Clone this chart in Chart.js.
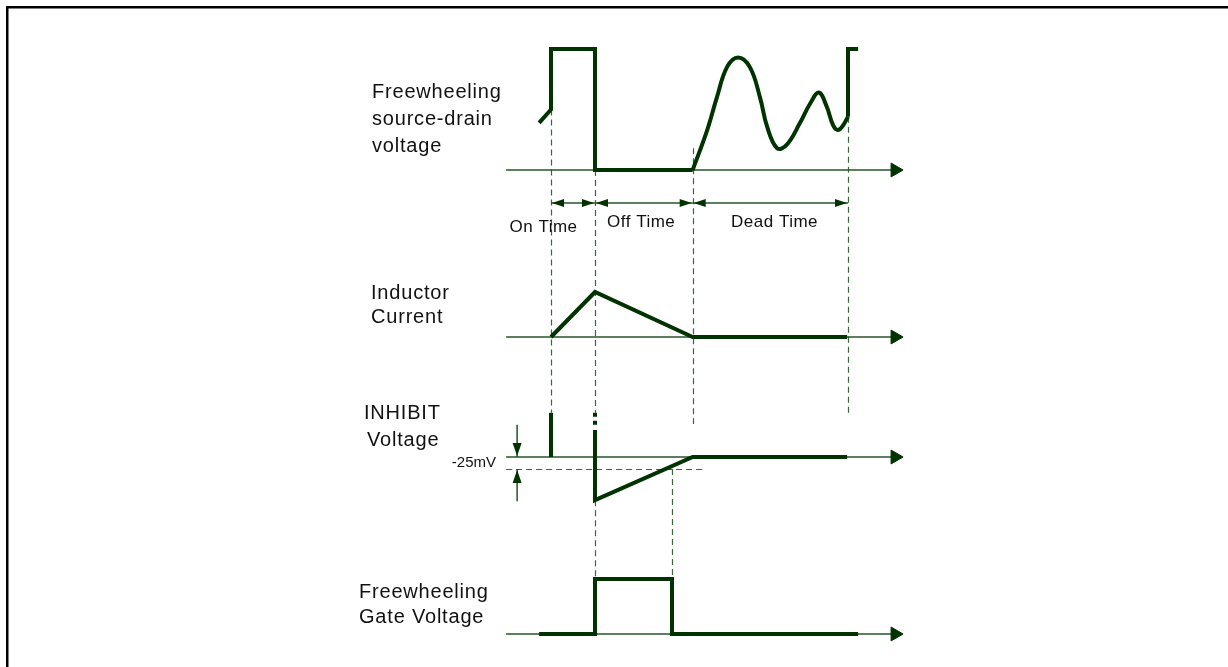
<!DOCTYPE html>
<html>
<head>
<meta charset="utf-8">
<title>Freewheeling timing diagram</title>
<script src="https://cdn.jsdelivr.net/npm/chart.js@4.4.1/dist/chart.umd.min.js"></script>
<style>
  html, body { margin: 0; padding: 0; background: #fff; }
  #wrap { position: relative; width: 1228px; height: 667px; }
</style>
</head>
<body>
<div id="wrap"><canvas id="timing"></canvas></div>
<script>
// phase edges (arbitrary time units): on starts, off starts, dead starts, dead ends
const edges = [0, 10, 32.2, 67.5];
const phases = ['On Time', 'Off Time', 'Dead Time'];

// freewheeling source-drain voltage (1 = high level)
const sdStepT = [-2.7, 0, 0, 10, 10, 32.2];
const sdStepV = [0.39, 0.5, 1, 1, 0, 0];
const sdRingT = [32.2, 35.5, 37.7, 40.0, 42.5, 45.2, 47.5, 49.1, 51.4, 53.6, 56.6, 58.9, 60.9, 62.7, 64.1, 65.2, 66.4, 67.5];
const sdRingV = [0, 0.33, 0.60, 0.85, 0.93, 0.85, 0.60, 0.36, 0.18, 0.21, 0.39, 0.55, 0.64, 0.52, 0.37, 0.33, 0.37, 0.44];
const sdEndT = [67.5, 67.5, 69.8];
const sdEndV = [0.44, 1, 1];

// inductor current (1 = peak)
const ilT = [0, 10, 32.2, 67.3];
const ilV = [0, 1, 0, 0];

// INHIBIT voltage in mV
const inhSpikeT = [0, 0];
const inhSpikeV = [0, 92];
const inhDotT = [10, 10];
const inhDotV = [92, 62];
const inhT = [10, 10, 32.2, 67.3];
const inhV = [56, -90, 0, 0];
const threshold = -25;

// freewheeling gate voltage (1 = on)
const gateT = [-2.7, 10, 10, 27.5, 27.5, 69.8];
const gateV = [0, 0, 1, 1, 0, 0];

// time axis extent (start, arrow centre)
const axisT = [-10.2, 78.2];

// layout: pixel baseline and pixels per unit for each trace
const W = 1228, H = 667, X0 = 551, PX_PER_T = 4.4;
const bands = {
  ySd:   { base: 170, unit: 121 },
  yIl:   { base: 337, unit: 45 },
  yInh:  { base: 457, unit: 0.48 },
  yGate: { base: 634, unit: 55 }
};

const TRACE = '#003300';
const AXIS = '#24552a';
const GUIDE = '#3a663a';
const FONT = '"Liberation Sans", Arial, sans-serif';

function xy(ts, vs) { return ts.map((t, i) => ({ x: t, y: vs[i] })); }

function trace(ts, vs, axis, extra) {
  return Object.assign({
    data: xy(ts, vs), yAxisID: axis, borderColor: TRACE, borderWidth: 4, showLine: true,
    pointRadius: 0, tension: 0, borderJoinStyle: 'miter', borderCapStyle: 'butt', order: 0
  }, extra || {});
}

function axisLine(axis) {
  return {
    data: xy(axisT, [0, 0]), yAxisID: axis, borderColor: AXIS, borderWidth: 1.5, showLine: true,
    pointRadius: [0, 8], pointStyle: 'triangle', rotation: 90,
    pointBackgroundColor: TRACE, pointBorderColor: TRACE, pointBorderWidth: 1, order: 5
  };
}

// dashed guides spanning traces: [axis, value] to [axis, value]
const guides = [
  { t: edges[0], from: ['ySd', 0.5], to: ['yInh', 92] },
  { t: edges[1], from: ['ySd', 0], to: ['yInh', 92] },
  { t: edges[1], from: ['yInh', -90], to: ['yGate', 1] },
  { t: edges[2], from: ['ySd', 0.18], to: ['yInh', 69] },
  { t: edges[3], from: ['ySd', 0.44], to: ['yInh', 92] },
  { t: 27.5, from: ['yInh', threshold], to: ['yGate', 1] }
];

const textBlocks = [
  { lines: ['Freewheeling', 'source-drain', 'voltage'], x: 372, y: 92, lh: 27 },
  { lines: ['Inductor', 'Current'], x: 371, y: 293, lh: 24 },
  { lines: ['INHIBIT'], x: 364, y: 413, lh: 27 },
  { lines: ['Voltage'], x: 367, y: 440, lh: 27 },
  { lines: ['Freewheeling', 'Gate Voltage'], x: 359, y: 592, lh: 25 }
];

function head(ctx, x, y, dx, dy, len, hw) {
  const px = -dy, py = dx;
  ctx.beginPath();
  ctx.moveTo(x, y);
  ctx.lineTo(x - dx * len + px * hw, y - dy * len + py * hw);
  ctx.lineTo(x - dx * len - px * hw, y - dy * len - py * hw);
  ctx.closePath();
  ctx.fill();
}

const diagram = {
  id: 'diagram',
  beforeDatasetsDraw(chart) {
    const ctx = chart.ctx, xs = chart.scales.x;
    ctx.save();
    ctx.strokeStyle = GUIDE;
    ctx.lineWidth = 1.2;
    ctx.setLineDash([6, 4]);
    guides.forEach(g => {
      const x = Math.round(xs.getPixelForValue(g.t)) + 0.5;
      ctx.beginPath();
      ctx.moveTo(x, chart.scales[g.from[0]].getPixelForValue(g.from[1]));
      ctx.lineTo(x, chart.scales[g.to[0]].getPixelForValue(g.to[1]));
      ctx.stroke();
    });
    // threshold level
    const yt = Math.round(chart.scales.yInh.getPixelForValue(threshold)) + 0.5;
    ctx.beginPath();
    ctx.moveTo(xs.getPixelForValue(axisT[0]), yt);
    ctx.lineTo(xs.getPixelForValue(35.2), yt);
    ctx.stroke();
    ctx.restore();
  },
  afterDraw(chart) {
    const ctx = chart.ctx, xs = chart.scales.x, ySd = chart.scales.ySd, yInh = chart.scales.yInh;
    ctx.save();
    // frame
    ctx.fillStyle = '#000';
    ctx.fillRect(6, 6, W - 6, 2.5);
    ctx.fillRect(6, 6, 2.5, H - 6);

    // phase dimension arrows
    ctx.strokeStyle = AXIS;
    ctx.fillStyle = TRACE;
    ctx.lineWidth = 1.5;
    const yd = ySd.getPixelForValue(-0.273);
    for (let i = 0; i < phases.length; i++) {
      const a = xs.getPixelForValue(edges[i]), b = xs.getPixelForValue(edges[i + 1]);
      ctx.beginPath(); ctx.moveTo(a, yd); ctx.lineTo(b, yd); ctx.stroke();
      head(ctx, a + 1, yd, -1, 0, 12, 4);
      head(ctx, b - 1, yd, 1, 0, 12, 4);
    }

    // -25mV dimension arrows
    const xa = xs.getPixelForValue(-7.7);
    const y0 = yInh.getPixelForValue(0), y1 = yInh.getPixelForValue(threshold);
    ctx.beginPath();
    ctx.moveTo(xa, yInh.getPixelForValue(67)); ctx.lineTo(xa, y0);
    ctx.moveTo(xa, y1); ctx.lineTo(xa, yInh.getPixelForValue(-92));
    ctx.stroke();
    head(ctx, xa, y0 - 1, 0, 1, 13, 4.5);
    head(ctx, xa, y1 + 1, 0, -1, 13, 4.5);

    // texts
    ctx.fillStyle = '#111';
    ctx.textBaseline = 'middle';
    ctx.textAlign = 'left';
    ctx.font = '20px ' + FONT;
    ctx.letterSpacing = '0.8px';
    textBlocks.forEach(b => b.lines.forEach((s, i) => ctx.fillText(s, b.x, b.y + i * b.lh)));

    ctx.font = '17px ' + FONT;
    ctx.letterSpacing = '0.5px';
    ctx.textAlign = 'center';
    const labelT = [-1.7, 20.5, 50.8];
    const labelV = [-0.47, -0.43, -0.43];
    phases.forEach((p, i) => ctx.fillText(p, xs.getPixelForValue(labelT[i]), ySd.getPixelForValue(labelV[i])));

    ctx.font = '15px ' + FONT;
    ctx.letterSpacing = '0px';
    ctx.textAlign = 'right';
    ctx.fillText(threshold + 'mV', 496, yInh.getPixelForValue(-13));
    ctx.restore();
  }
};

const yScales = {};
Object.keys(bands).forEach(k => {
  const b = bands[k];
  yScales[k] = { type: 'linear', display: false, min: -(H - b.base) / b.unit, max: b.base / b.unit };
});

new Chart(document.getElementById('timing'), {
  type: 'scatter',
  data: {
    datasets: [
      axisLine('ySd'), axisLine('yIl'), axisLine('yInh'), axisLine('yGate'),
      trace(sdStepT, sdStepV, 'ySd'),
      trace(sdRingT, sdRingV, 'ySd', { tension: 0.4, borderJoinStyle: 'round' }),
      trace(sdEndT, sdEndV, 'ySd'),
      trace(ilT, ilV, 'yIl'),
      trace(inhSpikeT, inhSpikeV, 'yInh'),
      trace(inhDotT, inhDotV, 'yInh', { borderDash: [4, 4] }),
      trace(inhT, inhV, 'yInh'),
      trace(gateT, gateV, 'yGate')
    ]
  },
  options: {
    responsive: true,
    maintainAspectRatio: false,
    devicePixelRatio: 1,
    animation: false,
    layout: { padding: 0, autoPadding: false },
    plugins: { legend: { display: false }, tooltip: { enabled: false } },
    scales: Object.assign({
      x: { type: 'linear', display: false, min: -X0 / PX_PER_T, max: (W - X0) / PX_PER_T }
    }, yScales)
  },
  plugins: [diagram]
});
</script>
</body>
</html>
